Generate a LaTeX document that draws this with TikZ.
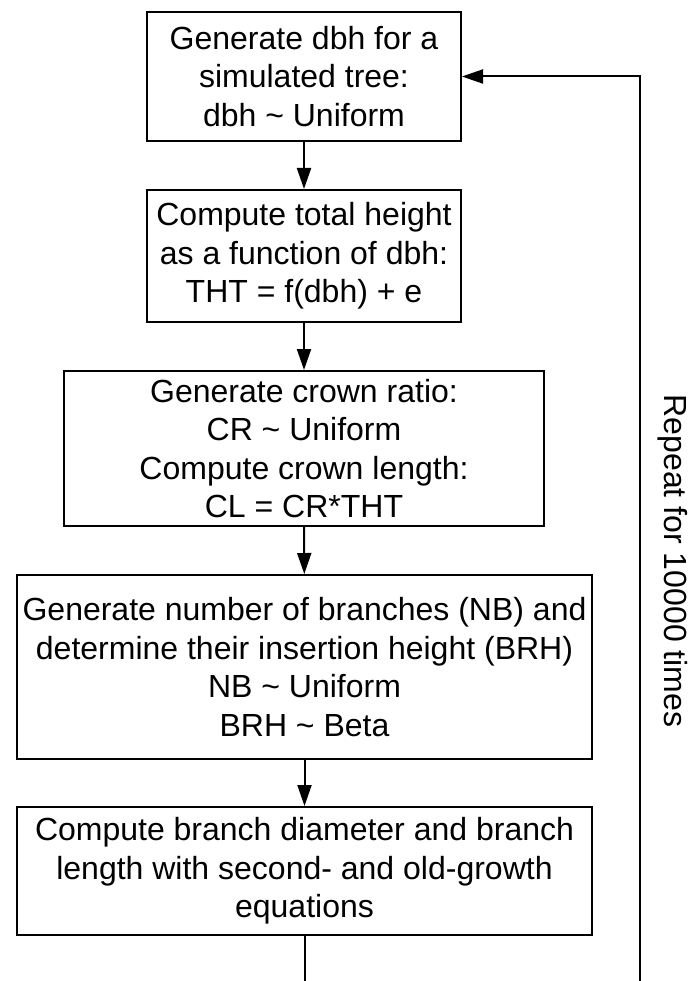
\documentclass[tikz,border=0pt]{standalone}
\usepackage{fontspec}
\setmainfont{Liberation Sans}
\usetikzlibrary{arrows.meta}

\begin{document}
\begin{tikzpicture}
  [x=1pt,y=-1pt,line width=2pt,
   box/.style={draw,rectangle,align=center,inner sep=0pt,
     font=\fontsize{32}{38.5}\selectfont},
   flow/.style={-{Triangle[length=21pt,width=14pt]}}]
  \useasboundingbox (0,0) rectangle (692,981);

  \node[box,minimum width=314,minimum height=129] (n1) at (304,76.5)
    {Generate dbh for a\\simulated tree:\\dbh \textasciitilde{} Uniform};
  \node[box,minimum width=314,minimum height=132] (n2) at (304,256)
    {Compute total height\\as a function of dbh:\\THT = f(dbh) + e};
  \node[box,minimum width=480,minimum height=155] (n3) at (304,448.5)
    {Generate crown ratio:\\CR \textasciitilde{} Uniform\\Compute crown length:\\CL = CR*THT};
  \node[box,minimum width=575,minimum height=184] (n4) at (304.5,667)
    {Generate number of branches (NB) and\\determine their insertion height (BRH)\\NB \textasciitilde{} Uniform\\BRH \textasciitilde{} Beta};
  \node[box,minimum width=575,minimum height=128] (n5) at (304.5,871)
    {Compute branch diameter and branch\\length with second- and old-growth\\equations};

  \node[rotate=-90,inner sep=0pt,font=\fontsize{32}{38.5}\selectfont] (rep) at (673,561)
    {Repeat for 10000 times};

  \draw[flow] (n1) -- (n2);
  \draw[flow] (n2) -- (n3);
  \draw[flow] (n3) -- (n4);
  \draw[flow] (n4) -- (n5);

  % loop back to the top
  \coordinate (loopA) at (304.5,995);
  \coordinate (loopB) at (640,995);
  \draw[flow] (n5) -- (loopA) -- (loopB) |- (n1.east);
\end{tikzpicture}
\end{document}
